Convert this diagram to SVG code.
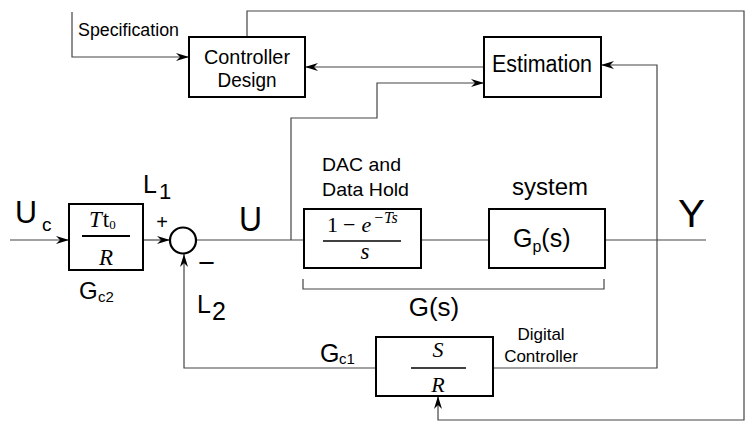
<svg xmlns="http://www.w3.org/2000/svg" width="755" height="432" viewBox="0 0 755 432">
<defs>
<marker id="arr" markerUnits="userSpaceOnUse" markerWidth="14" markerHeight="10" refX="13" refY="4" orient="auto" overflow="visible">
<path d="M0,0 L13,4 L0,8 L4,4 z" fill="#000"/>
</marker>
</defs>
<style>
.box{fill:#fff;stroke:#000;stroke-width:2}
.wire{fill:none;stroke:#444;stroke-width:1.2}
.t{font-family:"Liberation Sans",Arial,sans-serif;fill:#000}
.m{font-family:"Liberation Serif","Times New Roman",serif;fill:#000}
.i{font-style:italic}
.frac{stroke:#000;stroke-width:2}
</style>
<rect width="755" height="432" fill="#fff"/>
<g id="connectors">
<path class="wire" d="M72,12 V57 H189" marker-end="url(#arr)"/>
<path class="wire" d="M247,37 V11 H744 V420 H438 V396" marker-end="url(#arr)"/>
<path class="wire" d="M484,67 H305" marker-end="url(#arr)"/>
<path class="wire" d="M291,240 V118 H377 V83 H484" marker-end="url(#arr)"/>
<path class="wire" d="M493,368 H657 V65 H601" marker-end="url(#arr)"/>
<path class="wire" d="M376,368 H184 V254" marker-end="url(#arr)"/>
<path class="wire" d="M10,240 H69" marker-end="url(#arr)"/>
<path class="wire" d="M143,240 H170" marker-end="url(#arr)"/>
<path class="wire" d="M196,240 H304"/>
<path class="wire" d="M421,240 H489"/>
<path class="wire" d="M605,240 H706"/>
<path class="wire" d="M303,279 V289 H604 V279"/>
</g>
<g id="spec-label">
<text class="t" x="78" y="36" font-size="17.5" textLength="101" lengthAdjust="spacingAndGlyphs">Specification</text>
</g>
<g id="controller-design">
<rect class="box" x="189" y="37" width="116" height="60"/>
<text class="t" x="247" y="64" font-size="21" text-anchor="middle" textLength="86" lengthAdjust="spacingAndGlyphs">Controller</text>
<text class="t" x="247" y="87" font-size="21" text-anchor="middle" textLength="59" lengthAdjust="spacingAndGlyphs">Design</text>
</g>
<g id="estimation">
<rect class="box" x="484" y="37" width="117" height="60"/>
<text class="t" x="542" y="72" font-size="23" text-anchor="middle" textLength="100" lengthAdjust="spacingAndGlyphs">Estimation</text>
</g>
<g id="input-label">
<text class="t" x="15" y="223" font-size="32" textLength="22" lengthAdjust="spacingAndGlyphs">U</text>
<text class="t" x="42" y="231" font-size="19">c</text>
</g>
<g id="gc2">
<rect class="box" x="69" y="204" width="74" height="66"/>
<line class="frac" x1="82" y1="236" x2="130" y2="236"/>
<text class="m" x="89" y="227" font-size="23"><tspan class="i">T</tspan><tspan dx="1">t</tspan><tspan font-size="13" dy="2">0</tspan></text>
<text class="m i" x="106" y="265" font-size="23" text-anchor="middle">R</text>
<text class="t" x="79" y="299" font-size="24">G</text>
<text class="t" x="98" y="302" font-size="15">c2</text>
</g>
<g id="sum">
<circle cx="183" cy="240.5" r="13" fill="#fff" stroke="#000" stroke-width="2.2"/>
<text class="t" x="162" y="229" font-size="20" text-anchor="middle">+</text>
<text class="t" x="198" y="272" font-size="28" textLength="17" lengthAdjust="spacingAndGlyphs">−</text>
<text class="t" x="143" y="193" font-size="25">L</text>
<text class="t" x="159" y="199" font-size="22">1</text>
<text class="t" x="197" y="313" font-size="25">L</text>
<text class="t" x="212" y="320" font-size="25">2</text>
</g>
<g id="u-label">
<text class="t" x="239" y="231" font-size="35" textLength="23" lengthAdjust="spacingAndGlyphs">U</text>
</g>
<g id="dac">
<text class="t" x="322" y="171" font-size="18.5" textLength="79" lengthAdjust="spacingAndGlyphs">DAC and</text>
<text class="t" x="322" y="196" font-size="18.5" textLength="87" lengthAdjust="spacingAndGlyphs">Data Hold</text>
<rect class="box" x="304" y="209" width="117" height="59"/>
<line x1="323" y1="241" x2="401" y2="241" stroke="#000" stroke-width="1.5"/>
<text class="m" x="327" y="232" font-size="22"><tspan>1</tspan><tspan dx="5">−</tspan><tspan class="i" dx="6">e</tspan><tspan class="i" font-size="16" dy="-9" dx="2">−Ts</tspan></text>
<text class="m i" x="365" y="259" font-size="23" text-anchor="middle">s</text>
</g>
<g id="system">
<text class="t" x="550" y="195" font-size="23" text-anchor="middle" textLength="76" lengthAdjust="spacingAndGlyphs">system</text>
<rect class="box" x="489" y="209" width="116" height="59"/>
<text class="t" x="513" y="247" font-size="25"><tspan>G</tspan><tspan font-size="16" dy="5">p</tspan><tspan dy="-5">(s)</tspan></text>
</g>
<g id="y-label">
<text class="t" x="678" y="227" font-size="38" textLength="27" lengthAdjust="spacingAndGlyphs">Y</text>
</g>
<g id="gs-label">
<text class="t" x="434" y="316" font-size="26" text-anchor="middle">G(s)</text>
</g>
<g id="gc1">
<text class="t" x="320" y="362" font-size="25">G</text>
<text class="t" x="339" y="364" font-size="15">c1</text>
<rect class="box" x="376" y="337" width="117" height="59"/>
<line x1="411" y1="368" x2="466" y2="368" stroke="#000" stroke-width="1.5"/>
<text class="m i" x="438" y="357" font-size="22" text-anchor="middle">S</text>
<text class="m i" x="438" y="392" font-size="22" text-anchor="middle">R</text>
<text class="t" x="541" y="340" font-size="17" text-anchor="middle">Digital</text>
<text class="t" x="541" y="362" font-size="17" text-anchor="middle">Controller</text>
</g>
</svg>
